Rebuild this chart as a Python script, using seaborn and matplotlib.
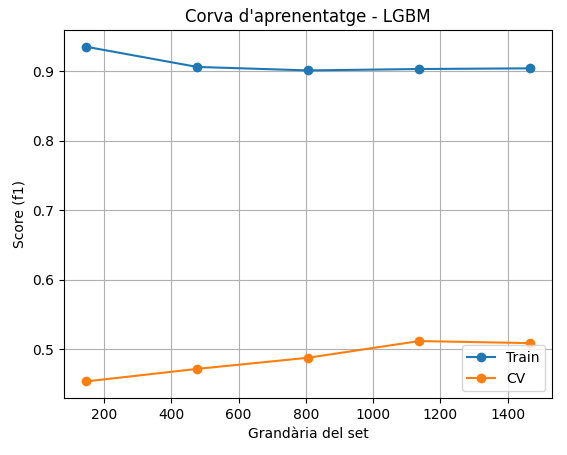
import matplotlib
matplotlib.use("Agg")
import matplotlib.pyplot as plt
import seaborn as sns

train_sizes = [147, 477, 807, 1137, 1467]
train_scores = [0.935, 0.906, 0.901, 0.903, 0.904]
cv_scores = [0.454, 0.472, 0.488, 0.512, 0.509]

fig, ax = plt.subplots(figsize=(5.67, 4.55), dpi=100)
sns.lineplot(x=train_sizes, y=train_scores, marker="o", markeredgecolor="none", markersize=7, label="Train", ax=ax)
sns.lineplot(x=train_sizes, y=cv_scores, marker="o", markeredgecolor="none", markersize=7, label="CV", ax=ax)
ax.set_title("Corva d'aprenentatge - LGBM")
ax.set_xlabel("Grandària del set")
ax.set_ylabel("Score (f1)")
ax.grid(True)
ax.legend(loc="lower right")
fig.subplots_adjust(left=0.113, right=0.974, top=0.934, bottom=0.125)
plt.savefig("out.png")
